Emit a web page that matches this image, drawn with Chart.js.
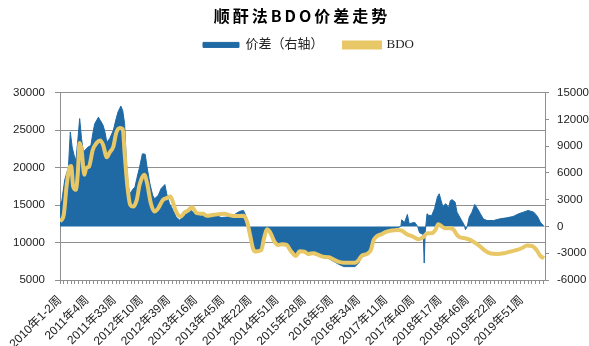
<!DOCTYPE html>
<html><head><meta charset="utf-8">
<script src="https://cdn.jsdelivr.net/npm/chart.js@4.4.0/dist/chart.umd.min.js"></script>
<style>html,body{margin:0;padding:0;background:#fff;}</style>
</head><body>
<canvas id="c" width="589" height="346"></canvas>
<script>
// x-axis tick labels (one every 29 weeks)
const tickLabels = ["2010年1-2周","2011年4周","2011年33周","2012年10周","2012年39周","2013年16周","2013年45周","2014年22周","2014年51周","2015年28周","2016年5周","2016年34周","2017年11周","2017年40周","2018年17周","2018年46周","2019年22周","2019年51周"];
const labelStep = 29;
const lastWeek = 518;

// 价差 (right axis) — week index / value
const spreadWeeks = [0,2,5,9,11,13,15,17,19,21,23,25,28,30,33,35,37,41,43,46,48,50,53,57,60,62,65,67,69,71,73,75,78,80,82,85,88,91,93,96,99,101,105,108,112,114,117,121,124,128,132,135,140,146,150,156,162,167,172,178,185,192,196,199,201,203,206,209,215,218,221,224,228,233,237,242,247,252,256,261,265,270,276,281,287,292,297,303,310,315,319,322,328,332,335,338,344,349,354,360,364,365,368,371,373,376,379,382,384,388,389,390,392,394,397,400,403,405,407,409,410,412,415,417,419,422,424,427,429,432,433,435,437,440,443,446,449,452,456,463,470,477,484,490,495,500,506,510,513,517];
const spreadValues = [2400,2900,5200,6650,10600,8900,8000,7400,9650,12100,9850,8350,8700,8900,9100,10400,11500,12250,11900,11350,10600,9450,9850,10800,12100,12850,13500,13000,11550,7000,4400,3700,4200,4400,5350,6650,8150,8100,6650,4800,3500,3100,3500,4250,4700,3650,2550,1800,1050,700,1250,1400,1800,1250,1400,1100,1300,1250,1000,1050,1250,1700,1800,1050,300,-300,-1900,-2600,-2600,-1500,-400,-600,-1700,-2100,-2000,-2100,-2800,-3300,-2800,-2900,-3200,-3100,-3300,-3500,-3600,-3900,-4200,-4500,-4500,-4500,-4100,-3500,-3100,-2700,-1600,-1100,-800,-450,-300,-150,0,750,450,1350,300,400,450,0,-700,-900,-4100,-700,1430,1240,1240,1990,3290,3670,2920,2170,2360,2550,2100,2920,3000,2730,1610,1040,670,110,-370,0,1040,1610,2470,1990,1430,860,670,670,860,970,1120,1430,1610,1800,1610,1120,480,0];

// BDO (left axis) — week index / value
const bdoWeeks = [0,4,7,10,12,14,17,19,21,23,26,28,31,35,39,43,46,50,53,57,60,64,67,69,72,75,78,82,85,90,93,97,101,105,110,114,118,121,124,129,133,137,141,146,153,157,164,175,185,196,200,203,206,209,215,218,221,224,229,233,237,242,247,252,256,261,265,271,276,281,287,292,297,303,310,315,319,322,328,332,335,338,344,349,354,361,365,370,377,383,388,392,397,401,404,408,411,417,420,424,427,433,438,443,449,454,459,467,474,481,488,493,499,504,509,513,517];
const bdoValues = [12800,13700,17500,19950,20200,17500,17030,19250,23270,22380,19040,19940,20150,22380,23270,23630,23050,21400,22020,22820,24600,25280,25150,21940,17480,15030,14800,15700,17700,19040,17930,15250,14130,14590,15700,15920,16140,15250,14130,13470,14000,14300,14720,13920,13830,13560,13700,13830,13550,13560,12700,11000,9240,8790,9010,10590,11790,11470,10130,9680,9770,9680,8790,8210,8850,8790,8480,8570,8340,8120,8030,7760,7450,7310,7310,7310,7670,8210,8480,9010,10350,10790,11150,11470,11600,11690,11600,11150,10790,10440,10710,11240,11240,11690,12450,12130,11910,11910,11780,11020,10710,10580,10350,9990,9450,8920,8570,8480,8570,8790,9010,9240,9590,9550,9010,8210,7900];

const BLUE = '#1f6aa5';
const GOLD = '#e8c766';
const GRID = '#8f8f8f';
const TXT = '#222';
const numFont = {family: "'Liberation Sans', Arial, sans-serif", size: 11.5};

const headerTweak = {
  id: 'headerTweak',
  afterLayout(chart) {
    const lg = chart.legend;
    if (lg) {
      lg.left = 203 - lg.options.labels.padding;
      lg.top -= 7.3;
    }
    const tb = chart.titleBlock;
    if (tb) tb.left += 15;
  },
  beforeDraw(chart) {
    const tb = chart.titleBlock;
    if (tb && !tb._spaced) {
      const orig = tb.draw;
      tb.draw = function (area) {
        this.ctx.save();
        this.ctx.letterSpacing = '3px';
        orig.call(this, area);
        this.ctx.restore();
      };
      tb._spaced = true;
    }
  }
};

new Chart(document.getElementById('c'), {
  type: 'line',
  data: {
    datasets: [
      {
        label: '价差（右轴）',
        data: spreadWeeks.map((w, i) => ({x: w, y: spreadValues[i]})),
        yAxisID: 'y1',
        xAxisID: 'x',
        backgroundColor: BLUE,
        borderColor: BLUE,
        borderWidth: 1,
        pointRadius: 0,
        fill: 'origin',
        tension: 0,
        order: 1
      },
      {
        label: 'BDO',
        data: bdoWeeks.map((w, i) => ({x: w, y: bdoValues[i]})),
        yAxisID: 'y',
        xAxisID: 'x',
        borderColor: GOLD,
        backgroundColor: GOLD,
        borderWidth: 4,
        pointRadius: 0,
        fill: false,
        cubicInterpolationMode: 'monotone',
        order: 0
      }
    ]
  },
  options: {
    responsive: false,
    devicePixelRatio: 1,
    animation: false,
    layout: {padding: {left: 0, right: 0, top: 0, bottom: 0}},
    plugins: {
      title: {
        display: true,
        text: '顺酐法BDO价差走势',
        color: '#000',
        font: {family: "'Noto Sans CJK SC', sans-serif", size: 16, weight: 'bold'},
        padding: {top: 6, bottom: 0}
      },
      legend: {
        display: true,
        align: 'start',
        labels: {
          boxWidth: 36,
          boxHeight: 5,
          padding: 20.5,
          color: TXT,
          font: {family: "'Liberation Serif', 'Noto Sans CJK SC', serif", size: 13},
          sort: (a, b) => a.datasetIndex - b.datasetIndex
        }
      },
      tooltip: {enabled: false}
    },
    scales: {
      x: {
        type: 'linear',
        position: 'bottom',
        min: 0,
        max: lastWeek,
        afterBuildTicks(scale) {
          const t = [];
          for (let v = 0; v <= lastWeek; v++) {
            const isLabel = v % labelStep === 0 && v / labelStep < tickLabels.length;
            if (v % 4 === 0 || isLabel) t.push({value: v});
          }
          scale.ticks = t;
        },
        afterFit(scale) { scale.height = 66; },
        grid: {
          drawOnChartArea: false,
          drawTicks: true,
          tickLength: 4,
          color: (ctx) => (ctx.tick && ctx.tick.value % 4 === 0) ? GRID : 'rgba(0,0,0,0)'
        },
        border: {display: true, color: GRID, width: 1},
        ticks: {
          autoSkip: false,
          minRotation: 45,
          maxRotation: 45,
          padding: 9,
          color: TXT,
          font: {family: "'Liberation Sans', 'Noto Sans CJK SC', sans-serif", size: 12},
          callback: (v) => (v % labelStep === 0 && v / labelStep < tickLabels.length) ? tickLabels[v / labelStep] : ''
        }
      },
      xTop: {
        type: 'linear',
        position: 'top',
        display: true,
        grid: {display: false},
        border: {display: false},
        ticks: {display: false},
        afterFit(scale) { scale.height = 24; }
      },
      y: {
        position: 'left',
        min: 5000,
        max: 30000,
        afterBuildTicks(scale) {
          scale.ticks = [5000, 10000, 15000, 20000, 25000, 30000].map(v => ({value: v}));
        },
        afterFit(scale) { scale.width = 60; },
        grid: {color: GRID, lineWidth: 1, tickLength: 5, drawTicks: true},
        border: {display: true, color: GRID, width: 1},
        ticks: {padding: 10, color: TXT, font: numFont, callback: (v) => String(v)}
      },
      y1: {
        position: 'right',
        min: -6000,
        max: 15000,
        afterBuildTicks(scale) {
          scale.ticks = [-6000, -3000, 0, 3000, 6000, 9000, 12000, 15000].map(v => ({value: v}));
        },
        afterFit(scale) { scale.width = 44; },
        grid: {drawOnChartArea: false, color: GRID, tickLength: 4, drawTicks: true},
        border: {display: true, color: GRID, width: 1},
        ticks: {padding: 8, color: TXT, font: numFont, callback: (v) => String(v)}
      }
    }
  },
  plugins: [headerTweak]
});
</script>
</body></html>
